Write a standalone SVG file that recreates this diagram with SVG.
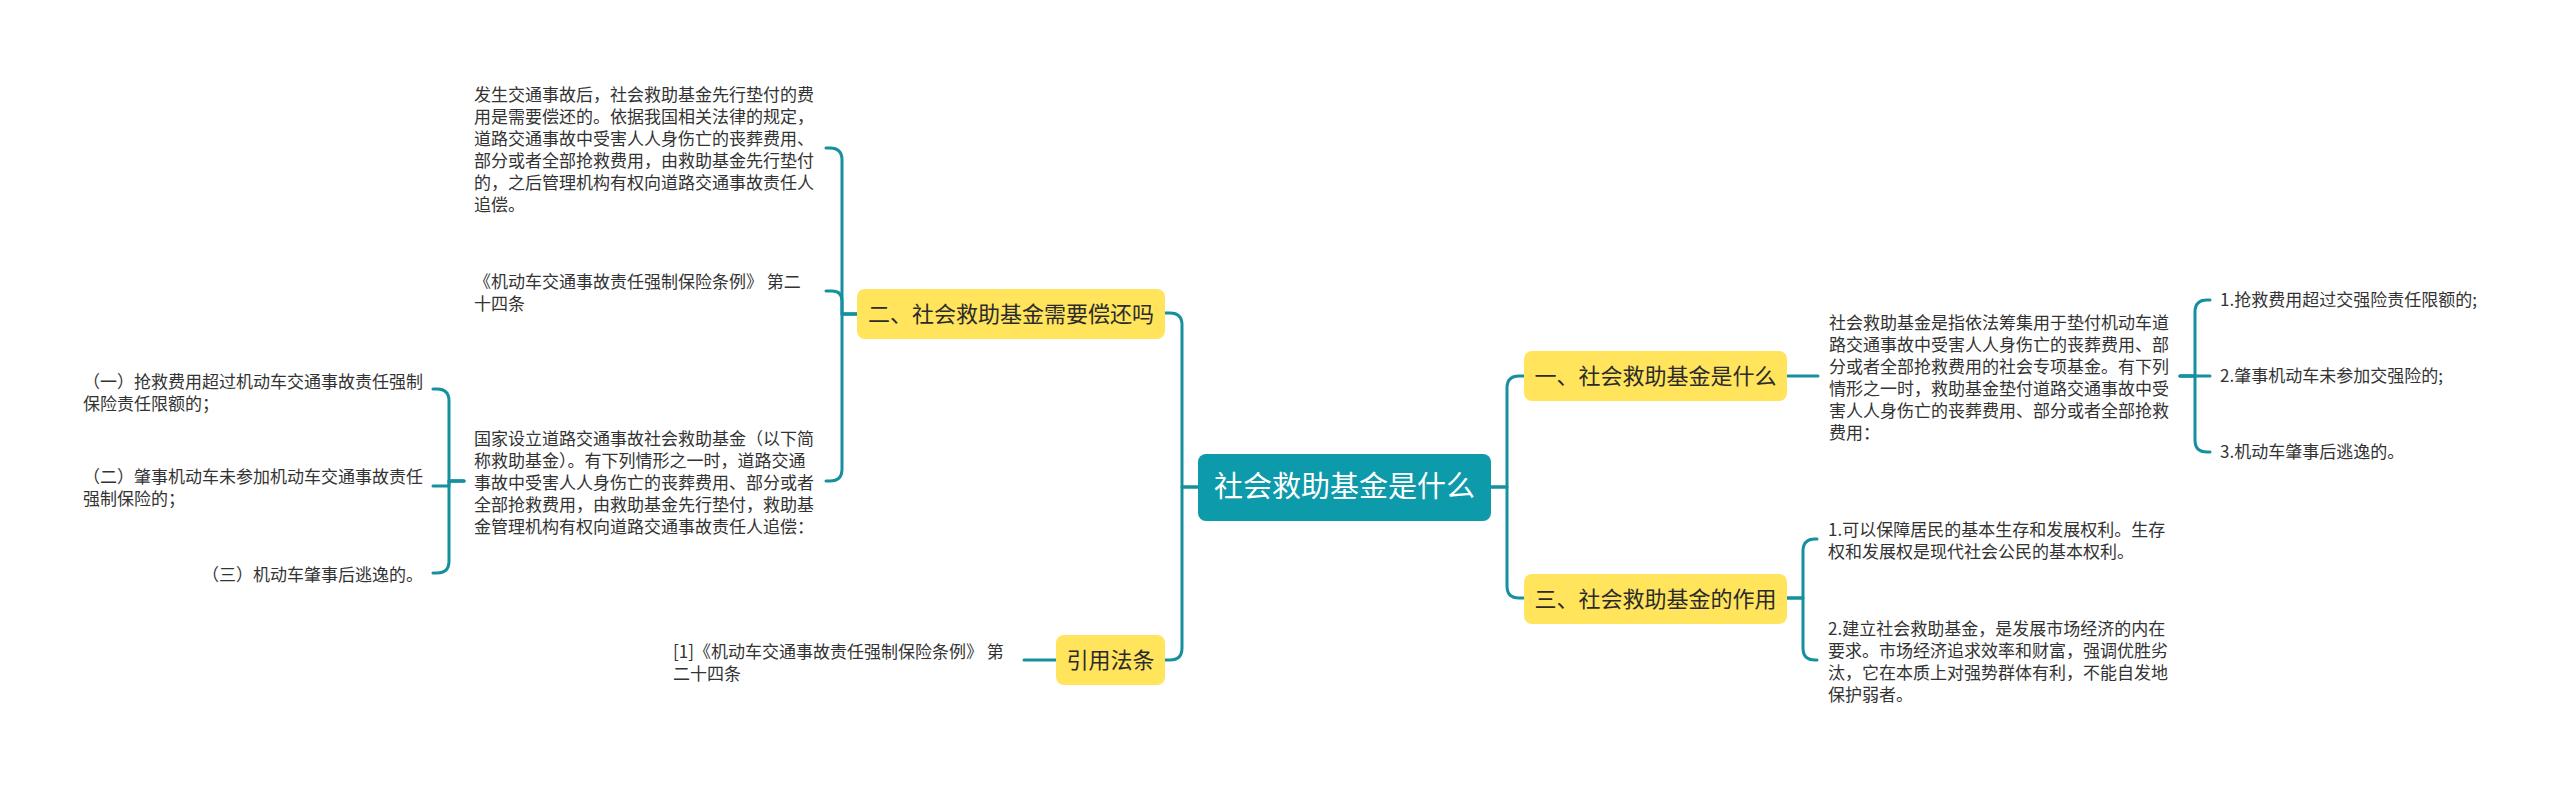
<svg xmlns="http://www.w3.org/2000/svg" width="2560" height="785" viewBox="0 0 2560 785">
<style>
  .conn { fill: none; stroke: #16909f; stroke-width: 3; stroke-linecap: round; stroke-linejoin: round; }
  .root rect { fill: #0d9aaa; }
  .root text { fill: #ffffff; font-size: 29px; text-anchor: middle; }
  .topic rect { fill: #ffe45c; }
  .topic text { fill: #2b2b2b; font-size: 22px; text-anchor: middle; }
  text { font-family: "Noto Sans CJK SC", "Noto Sans", sans-serif; }
  .leaf text { fill: #333333; font-size: 17px; }
</style>
<rect width="2560" height="785" fill="#ffffff"/>
<g id="connectors">
  <path class="conn" d="M1198,487 H1182 V325 Q1182,313 1170,313 H1165"/>
  <path class="conn" d="M1198,487 H1182 V648 Q1182,660 1170,660 H1165"/>
  <path class="conn" d="M1491,487 H1507 V388 Q1507,376 1519,376 H1524"/>
  <path class="conn" d="M1491,487 H1507 V586 Q1507,598 1519,598 H1524"/>
  <path class="conn" d="M857,314 H842 V160 Q842,148 830,148 H826"/>
  <path class="conn" d="M857,314 H842 V301 Q842,291 832,291 H826"/>
  <path class="conn" d="M857,314 H842 V469 Q842,481 830,481 H826"/>
  <path class="conn" d="M1056,660 H1024"/>
  <path class="conn" d="M464,481 H449 V401 Q449,389 437,389 H433"/>
  <path class="conn" d="M464,481 H449 V486 H433"/>
  <path class="conn" d="M464,481 H449 V561 Q449,573 437,573 H433"/>
  <path class="conn" d="M1787,376 H1818"/>
  <path class="conn" d="M2180,376 H2195 V312 Q2195,300 2207,300 H2210"/>
  <path class="conn" d="M2180,376 H2210"/>
  <path class="conn" d="M2180,376 H2195 V440 Q2195,452 2207,452 H2210"/>
  <path class="conn" d="M1787,598 H1803 V551 Q1803,539 1815,539 H1817"/>
  <path class="conn" d="M1787,598 H1803 V648 Q1803,660 1815,660 H1817"/>
</g>
<g id="root" class="root">
  <rect x="1198" y="454" width="293" height="67" rx="8"/>
  <text x="1344.5" y="497">社会救助基金是什么</text>
</g>
<g id="topic2" class="topic">
  <rect x="857" y="289" width="308" height="50" rx="8"/>
  <text x="1011" y="322">二、社会救助基金需要偿还吗</text>
</g>
<g id="topicRef" class="topic">
  <rect x="1056" y="635" width="109" height="50" rx="8"/>
  <text x="1110.5" y="668">引用法条</text>
</g>
<g id="topic1" class="topic">
  <rect x="1524" y="351" width="263" height="50" rx="8"/>
  <text x="1655.5" y="384">一、社会救助基金是什么</text>
</g>
<g id="topic3" class="topic">
  <rect x="1524" y="574" width="263" height="50" rx="8"/>
  <text x="1655.5" y="607">三、社会救助基金的作用</text>
</g>
<g id="leaves" transform="translate(0,2)">
<g id="leaf2a" class="leaf">
  <text x="474" y="99">发生交通事故后，社会救助基金先行垫付的费</text>
  <text x="474" y="121">用是需要偿还的。依据我国相关法律的规定，</text>
  <text x="474" y="143">道路交通事故中受害人人身伤亡的丧葬费用、</text>
  <text x="474" y="165">部分或者全部抢救费用，由救助基金先行垫付</text>
  <text x="474" y="187">的，之后管理机构有权向道路交通事故责任人</text>
  <text x="474" y="209">追偿。</text>
</g>
<g id="leaf2b" class="leaf">
  <text x="474" y="286">《机动车交通事故责任强制保险条例》 第二</text>
  <text x="474" y="308">十四条</text>
</g>
<g id="leaf2c" class="leaf">
  <text x="474" y="443">国家设立道路交通事故社会救助基金（以下简</text>
  <text x="474" y="465">称救助基金）。有下列情形之一时，道路交通</text>
  <text x="474" y="487">事故中受害人人身伤亡的丧葬费用、部分或者</text>
  <text x="474" y="509">全部抢救费用，由救助基金先行垫付，救助基</text>
  <text x="474" y="531">金管理机构有权向道路交通事故责任人追偿：</text>
</g>
<g id="leaf2c1" class="leaf">
  <text x="83" y="386">（一）抢救费用超过机动车交通事故责任强制</text>
  <text x="83" y="408">保险责任限额的；</text>
</g>
<g id="leaf2c2" class="leaf">
  <text x="83" y="481">（二）肇事机动车未参加机动车交通事故责任</text>
  <text x="83" y="503">强制保险的；</text>
</g>
<g id="leaf2c3" class="leaf">
  <text x="423" y="579" text-anchor="end">（三）机动车肇事后逃逸的。</text>
</g>
<g id="leafRef" class="leaf">
  <text x="673" y="656">[1]《机动车交通事故责任强制保险条例》 第</text>
  <text x="673" y="678">二十四条</text>
</g>
<g id="leaf1" class="leaf">
  <text x="1829" y="327">社会救助基金是指依法筹集用于垫付机动车道</text>
  <text x="1829" y="349">路交通事故中受害人人身伤亡的丧葬费用、部</text>
  <text x="1829" y="371">分或者全部抢救费用的社会专项基金。有下列</text>
  <text x="1829" y="393">情形之一时，救助基金垫付道路交通事故中受</text>
  <text x="1829" y="415">害人人身伤亡的丧葬费用、部分或者全部抢救</text>
  <text x="1829" y="437">费用：</text>
</g>
<g id="leaf1a" class="leaf">
  <text x="2220" y="304">1.抢救费用超过交强险责任限额的;</text>
</g>
<g id="leaf1b" class="leaf">
  <text x="2220" y="380">2.肇事机动车未参加交强险的;</text>
</g>
<g id="leaf1c" class="leaf">
  <text x="2220" y="456">3.机动车肇事后逃逸的。</text>
</g>
<g id="leaf3a" class="leaf">
  <text x="1828" y="534">1.可以保障居民的基本生存和发展权利。生存</text>
  <text x="1828" y="556">权和发展权是现代社会公民的基本权利。</text>
</g>
<g id="leaf3b" class="leaf">
  <text x="1828" y="633">2.建立社会救助基金，是发展市场经济的内在</text>
  <text x="1828" y="655">要求。市场经济追求效率和财富，强调优胜劣</text>
  <text x="1828" y="677">汰，它在本质上对强势群体有利，不能自发地</text>
  <text x="1828" y="699">保护弱者。</text>
</g>
</g>
</svg>
